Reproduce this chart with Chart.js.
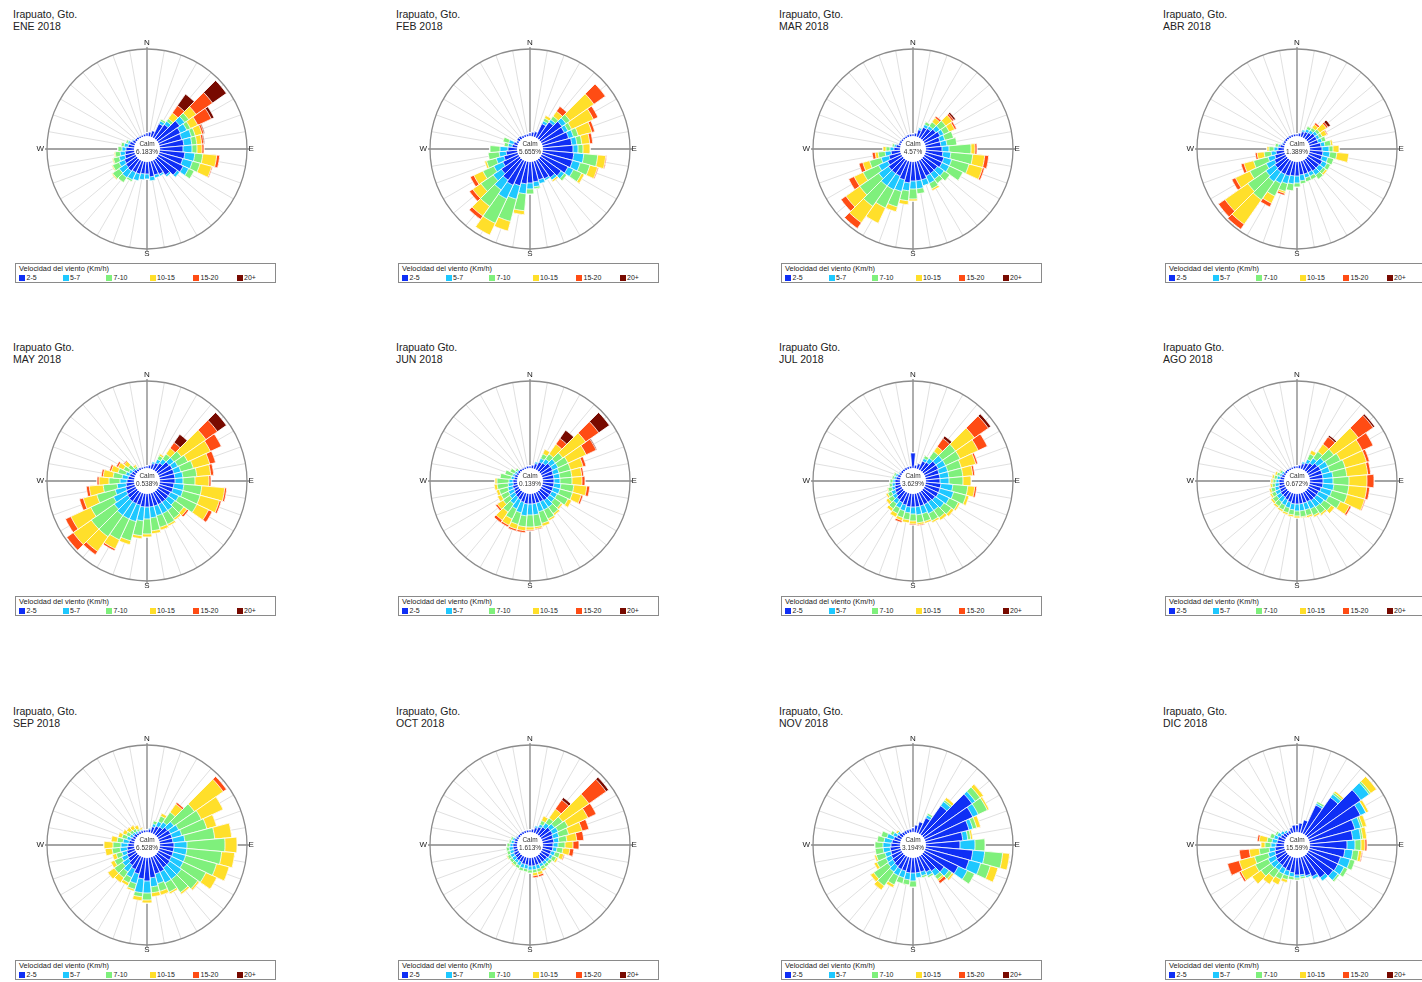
<!DOCTYPE html>
<html>
<head>
<meta charset="utf-8">
<script src="https://cdn.jsdelivr.net/npm/chart.js@4.4.1/dist/chart.umd.min.js"></script>
<style>
  html, body { margin: 0; padding: 0; background: #fff; width: 1422px; height: 982px; overflow: hidden;
    font-family: "Liberation Sans", Arial, Helvetica, sans-serif; }
  .title { position: absolute; font-size: 10.5px; line-height: 12px; color: #222; white-space: nowrap; }
  .rose { position: absolute; width: 260px; height: 260px; }
  .legend { position: absolute; width: 261px; height: 20px; box-sizing: border-box; border: 1px solid #8a8a8a; background: #fff; }
  .legend .lt { position: absolute; left: 3px; top: 1px; font-size: 7.4px; line-height: 8px; color: #222; white-space: nowrap; }
  .legend .sw { position: absolute; top: 11px; width: 6px; height: 6px; }
  .legend .lab { position: absolute; top: 10px; font-size: 7px; line-height: 8px; color: #222; white-space: nowrap; }
</style>
</head>
<body>
<script>
// Direction sectors, clockwise from north, 10 degrees each
const directionLabels = ['0','10','20','30','40','50','60','70','80','90','100','110',
  '120','130','140','150','160','170','180','190','200','210','220','230',
  '240','250','260','270','280','290','300','310','320','330','340','350'];

const speedBins = ['2-5','5-7','7-10','10-15','15-20','20+'];
const speedColors = ['#0f2ff5','#1ec8ff','#7ff07c','#ffdf2a','#ff4c14','#780a00'];

const monthLabels = ['ENE 2018','FEB 2018','MAR 2018','ABR 2018','MAY 2018','JUN 2018',
  'JUL 2018','AGO 2018','SEP 2018','OCT 2018','NOV 2018','DIC 2018'];
const stationLabels = ['Irapuato, Gto.','Irapuato, Gto.','Irapuato, Gto.','Irapuato, Gto.',
  'Irapuato Gto.','Irapuato Gto.','Irapuato Gto.','Irapuato Gto.',
  'Irapuato, Gto.','Irapuato, Gto.','Irapuato, Gto.','Irapuato, Gto.'];
const calmPercent = ['6.183','5.655','4.57','1.389','0.538','0.139','3.629','0.672','6.528','1.613','3.194','15.59'];

// Frequency (%) per direction for each speed class: [2-5, 5-7, 7-10, 10-15, 15-20, 20+]
const ene = [
  [.3,.4,.6,1.5,1.7,2.7,2.4,2.3,2.4,2.3,2.5,2.4, 2.7,2.4,1.9,1.5,1.4,1.5,1.2,1.2,1.3,1.3,1.4,1.3, 1.2,1.0,.9,.8,.6,.5,.3,.2,.2,.15,.15,.2],
  [0,0,0,.3,.4,.6,.7,1.0,.8,.9,1.0,1.0, .6,.3,.2,.2,.3,.4,.5,.6,.7,.8,.8,.8, .6,.6,.5,.4,.4,.2,.1,0,0,0,0,0],
  [0,0,0,.2,.3,.5,.4,.4,.5,.5,.8,.8, .6,0,0,0,0,0,0,0,0,.2,.6,.8, .7,.6,.5,.4,.3,.2,0,0,0,0,0,0],
  [0,0,0,0,.7,.9,.8,.7,.5,.5,1.4,1.2, 0,0,0,0,0,0,0,0,0,0,0,.1, .1,.1,.1,0,0,0,0,0,0,0,0,0],
  [0,0,0,0,.9,2.0,1.5,.2,.2,.2,.3,.1, 0,0,0,0,0,0,0,0,0,0,0,0, 0,0,0,0,0,0,0,0,0,0,0,0],
  [0,0,0,0,1.4,1.7,.3,.1,.1,0,0,0, 0,0,0,0,0,0,0,0,0,0,0,0, 0,0,0,0,0,0,0,0,0,0,0,0]
];
const feb = [
  [.3,.4,.5,1.5,2.0,2.6,2.5,2.7,2.9,3.0,3.1,3.1, 2.9,2.5,2.2,2.0,1.9,2.0,2.1,2.2,2.5,2.7,2.5,2.2, 1.7,1.4,1.1,.9,.5,.4,.2,.3,.3,.2,.2,.2],
  [0,0,0,.3,.3,.5,.4,.5,.5,.5,1.0,.8, .6,.4,.3,.2,.4,.5,.6,1.0,1.4,1.5,1.2,1.0, 1.0,.8,.7,.8,.4,.5,0,0,0,0,0,0],
  [0,0,0,.3,.4,.5,.4,.5,.5,.5,1.4,1.0, .9,.3,0,0,0,.2,.5,1.7,2.3,2.7,2.0,1.5, 1.2,1.0,1.1,1.0,.4,.6,0,0,0,0,0,0],
  [0,0,0,.3,.6,2.9,2.4,1.4,.8,.7,.8,.8, .3,0,.2,0,0,0,0,.4,1.0,1.3,1.2,1.0, 1.0,.2,0,0,0,0,0,0,0,0,0,0],
  [0,0,0,0,.6,1.4,.5,.3,.3,0,.1,.1, 0,0,0,0,0,0,0,0,0,0,.4,.4, .4,0,0,0,0,0,0,0,0,0,0,0],
  [0,0,0,0,0,0,0,0,0,0,0,0, 0,0,0,0,0,0,0,0,0,0,0,0, 0,0,0,0,0,0,0,0,0,0,0,0]
];
const mar = [
  [.2,.3,.7,1.1,1.2,1.5,1.7,1.5,1.5,1.6,1.7,1.9, 1.9,1.7,1.7,1.7,1.9,1.9,1.9,2.1,1.9,1.7,1.7,1.7, 1.5,1.2,.9,.6,.4,.2,.2,.15,.15,.15,.2,.2],
  [0,0,.2,.3,.3,.5,.4,.5,.6,.7,.8,.8, .8,.8,.7,.8,.6,.8,.8,.8,1.2,1.5,1.5,1.2, 1.0,.8,.6,.4,.2,0,0,0,0,0,0,0],
  [0,0,0,.3,.5,.7,.6,.9,1.0,2.2,2.2,1.8, 1.5,.7,.5,.6,0,.5,1.0,1.0,1.6,2.0,2.5,2.3, 1.7,1.2,.7,.4,.2,0,0,0,0,0,0,0],
  [0,0,0,0,.5,.8,.6,0,0,.4,1.2,1.4, 0,0,0,.2,0,0,.2,.4,.5,1.7,2.0,1.7, 1.0,.7,.3,.3,0,0,0,0,0,0,0,0],
  [0,0,0,0,.2,.2,.2,0,0,.2,.4,.2, 0,0,0,0,0,0,0,0,0,0,.7,.6, .6,.4,.3,0,0,0,0,0,0,0,0,0],
  [0,0,0,0,0,.2,0,0,0,0,0,0, 0,0,0,0,0,0,0,0,0,0,0,0, 0,0,0,0,0,0,0,0,0,0,0,0]
];
const abr = [
  [.2,.3,.5,.6,.7,.9,.9,.9,1.1,1.2,1.3,1.3, 1.5,1.4,1.4,1.3,1.3,1.3,1.4,1.4,1.5,1.5,1.5,1.4, 1.2,1.0,.8,.6,.4,.2,.2,.2,.2,.2,.2,.2],
  [0,0,.2,.3,.3,.3,.3,.4,.4,.7,.7,.6, .5,.5,.5,.4,.4,.6,.7,.8,.8,1.0,1.2,1.1, .9,.7,.5,.4,.2,.1,0,0,0,0,0,0],
  [0,0,0,.3,.3,.3,.3,.4,.6,.4,.7,.6, .4,.3,.5,.4,.4,.3,.4,.7,.8,1.4,2.2,2.2, 1.8,1.5,.7,.5,.3,0,0,0,0,0,0,0],
  [0,0,0,0,.4,.8,.5,0,.2,.6,1.2,0, 0,.2,0,0,0,0,0,0,.2,.8,3.0,2.8, 1.6,1.0,.7,.2,0,0,0,0,0,0,0,0],
  [0,0,0,0,.2,.2,.1,0,0,0,0,0, 0,0,0,0,0,0,0,0,.2,.4,.6,.8, .4,.3,.2,0,0,0,0,0,0,0,0,0],
  [0,0,0,0,0,.3,0,0,0,0,0,0, 0,0,0,0,0,0,0,0,0,0,0,0, 0,0,0,0,0,0,0,0,0,0,0,0]
];
const may = [
  [.2,.3,.5,.7,.9,1.4,1.5,1.5,1.5,1.5,1.4,1.4, 1.3,1.3,1.3,1.3,1.3,1.3,1.3,1.3,1.2,1.2,1.2,1.1, 1.0,.9,.8,.7,.6,.5,.4,.3,.2,.2,.15,.15],
  [0,0,.2,.4,.5,.6,.6,.7,.8,.8,1.0,1.0, .9,.8,1.0,1.0,1.0,1.1,1.2,1.4,1.7,1.7,1.7,1.6, 1.4,1.1,.9,.7,.6,.4,.3,.2,.1,0,0,0],
  [0,0,0,.4,.6,.9,1.1,1.3,1.4,1.2,1.8,1.8, 2.0,1.1,1.0,1.2,1.2,1.3,1.5,1.5,2.0,2.3,2.6,2.8, 2.5,1.9,1.4,1.1,.9,.8,.6,.5,.2,0,0,0],
  [0,0,0,.2,.7,3.0,2.5,1.7,1.4,1.4,2.3,2.0, 1.3,.4,.2,.2,.3,.3,.3,.3,.4,1.0,1.8,2.2, 2.2,1.4,1.4,1.0,1.0,.7,.6,.5,.2,0,0,0],
  [0,0,0,0,.7,1.4,1.2,.6,.3,.2,.2,.2, .4,.2,0,0,0,0,0,0,0,.2,.4,.8, .6,.4,.3,.2,.2,.2,.2,.1,0,0,0,0],
  [0,0,0,0,1.0,1.1,0,0,0,0,0,0, 0,0,0,0,0,0,0,0,0,0,0,0, 0,0,0,0,0,0,0,0,0,0,0,0]
];
const jun = [
  [.2,.3,.5,.8,.9,1.2,1.2,1.1,1.1,1.1,1.1,1.1, 1.1,1.1,1.1,1.0,1.0,1.0,1.0,1.0,.9,.8,.7,.6, .5,.5,.4,.4,.3,.3,.2,.2,.2,.15,.15,.2],
  [0,0,.2,.4,.5,.6,.6,.6,.6,.6,.7,.7, .6,.6,.8,.9,.9,1.1,1.1,1.2,1.1,1.0,.8,.6, .6,.5,.5,.4,.3,.2,.2,.1,0,0,0,0],
  [0,0,0,.5,.6,.9,1.1,1.2,1.2,1.2,1.3,1.3, 1.2,.8,.8,1.0,1.2,1.2,1.2,1.1,1.2,1.1,1.0,.8, .8,.9,1.1,1.2,1.1,.8,.5,.2,0,0,0,0],
  [0,0,0,.5,1.2,2.8,2.0,1.3,1.0,1.0,1.3,.9, .4,.2,.2,.2,.3,.2,.3,.4,.5,.7,1.0,.7, .4,.3,.3,.2,0,0,0,0,0,0,0,0],
  [0,0,0,0,.7,1.6,1.1,.3,.2,.3,.3,.2, 0,0,0,0,0,.1,.1,.2,.2,.2,.3,.2, 0,0,0,0,0,0,0,0,0,0,0,0],
  [0,0,0,0,1.0,1.3,.1,0,0,0,0,0, 0,0,0,0,0,0,0,0,0,0,0,0, 0,0,0,0,0,0,0,0,0,0,0,0]
];
const jul = [
  [1.5,.3,.5,.9,1.0,1.5,1.5,1.4,1.4,1.4,1.5,1.5, 1.5,1.4,1.3,1.3,1.3,1.3,1.3,1.3,1.2,1.1,1.0,.8, .7,.6,.5,.5,.4,.3,.2,.2,.2,.2,.2,.2],
  [0,0,0,.3,.5,.8,.8,.9,.9,.9,1.2,1.4, 1.2,1.1,1.0,1.0,.8,.8,.7,.6,.6,.6,.5,.4, .4,.3,.3,.2,.2,.2,.1,0,0,0,0,0],
  [0,0,0,.3,.8,1.6,1.6,1.4,1.4,1.4,1.5,1.3, 1.0,.9,.9,.8,.8,.8,.7,.7,.7,.6,.6,.5, .4,.4,.3,.3,.2,.2,0,0,0,0,0,0],
  [0,0,0,0,.6,2.3,2.0,1.5,1.0,.8,.7,.3, .2,.3,.3,.2,.2,.2,.3,.3,.3,.4,.3,.3, .2,.1,0,0,0,0,0,0,0,0,0,0],
  [0,0,0,0,1.0,1.7,1.0,.2,.2,0,.2,0, 0,0,0,0,0,.1,.1,0,.2,0,0,0, 0,0,0,0,0,0,0,0,0,0,0,0],
  [0,0,0,0,.3,.3,0,0,0,0,0,0, 0,0,0,0,0,0,0,0,0,0,0,0, 0,0,0,0,0,0,0,0,0,0,0,0]
];
const ago = [
  [.2,.3,.5,.7,.9,1.2,1.3,1.3,1.3,1.3,1.3,1.2, 1.1,1.1,1.1,1.0,1.0,1.0,1.0,1.0,.9,.8,.7,.7, .6,.6,.5,.5,.4,.3,.2,.2,.2,.15,.15,.2],
  [0,0,.2,.4,.6,.8,.8,.8,1.0,1.0,1.1,1.1, 1.1,.9,.8,.8,.7,.7,.7,.6,.6,.6,.6,.5, .5,.4,.4,.3,.3,.2,.2,0,0,0,0,0],
  [0,0,0,.6,.8,1.2,1.4,1.6,1.4,1.6,1.5,1.6, 1.3,.9,.8,.7,.6,.6,.5,.5,.5,.5,.5,.5, .4,.4,.3,.3,.3,.3,.2,0,0,0,0,0],
  [0,0,0,.4,.9,3.0,2.4,2.2,2.1,1.8,1.8,1.8, 1.0,.4,.2,.2,.2,.1,.2,.2,.2,.2,.2,.2, .2,.2,.2,.2,.2,.2,.1,0,0,0,0,0],
  [0,0,0,0,.9,1.8,1.2,.3,.3,.7,.3,.1, .2,0,0,0,0,0,0,0,0,0,0,0, 0,0,0,0,0,0,0,0,0,0,0,0],
  [0,0,0,0,.2,.2,0,0,0,0,0,0, 0,0,0,0,0,0,0,0,0,0,0,0, 0,0,0,0,0,0,0,0,0,0,0,0]
];
const sep = [
  [.2,.3,.6,.8,.9,1.2,1.3,1.3,1.3,1.4,1.4,1.4, 1.4,1.5,1.5,1.7,1.7,2.0,2.3,2.1,1.7,1.4,1.2,1.0, .9,.8,.7,.6,.5,.4,.3,.3,.2,.2,.2,.2],
  [0,.1,.3,.5,.6,.8,.9,1.0,1.2,1.3,1.3,1.3, 1.3,1.4,1.4,1.2,1.0,.9,1.2,1.4,1.0,.9,.8,.7, .6,.5,.7,.7,.6,.4,.3,.2,.2,.1,.1,0],
  [0,0,.3,.6,1.2,2.5,2.5,2.6,3.0,3.8,3.5,3.2, 2.5,2.0,1.6,1.0,.8,.6,.7,.4,.6,.6,.7,1.0, .8,.6,.8,.8,.6,.5,.4,.3,.3,.2,0,0],
  [0,0,0,.3,1.0,3.5,2.4,1.0,1.7,1.2,1.3,1.3, 1.2,.2,.2,.2,.4,.4,.3,.4,.2,.3,.6,.8, .4,.4,.7,.9,.6,.4,.4,.4,.4,.4,.2,0],
  [0,0,0,0,.2,.4,0,0,0,0,0,0, 0,0,0,0,0,0,0,0,0,0,0,0, 0,0,0,0,0,0,0,0,0,0,0,0],
  [0,0,0,0,0,0,0,0,0,0,0,0, 0,0,0,0,0,0,0,0,0,0,0,0, 0,0,0,0,0,0,0,0,0,0,0,0]
];
const oct = [
  [.2,.3,.5,.7,.9,1.2,1.2,1.1,1.1,1.0,1.0,.9, .9,.8,.8,.8,.8,.8,.8,.7,.7,.6,.6,.5, .5,.4,.4,.4,.3,.3,.2,.2,.2,.2,.2,.2],
  [0,0,.2,.3,.5,.5,.6,.6,.5,.5,.4,.4, .3,.3,.3,.3,.4,.4,.4,.4,.4,.4,.3,.4, .4,.4,.4,.3,.3,.2,.1,0,0,0,0,0],
  [0,0,0,.4,.6,1.0,1.1,1.0,.8,.7,.6,.5, .4,.3,.3,.3,.3,.3,.3,.3,.3,.3,.3,.3, .3,.3,.3,.3,.2,.2,0,0,0,0,0,0],
  [0,0,0,.5,1.1,3.2,2.2,1.4,1.0,.8,.7,.4, .2,0,0,.2,.3,.3,0,0,0,0,.1,0, .1,0,0,0,0,0,0,0,0,0,0,0],
  [0,0,0,0,1.1,2.1,.9,.7,.7,.6,.4,.1, 0,0,0,0,.2,.2,0,0,0,0,0,0, 0,0,0,0,0,0,0,0,0,0,0,0],
  [0,0,0,0,.3,.3,0,0,0,0,0,0, 0,0,0,0,0,0,0,0,0,0,0,0, 0,0,0,0,0,0,0,0,0,0,0,0]
];
const nov = [
  [.4,.7,1.1,1.7,3.5,5.9,5.3,4.5,3.7,3.4,4.7,4.5, 3.7,2.5,1.9,1.7,1.5,1.5,1.5,1.5,1.4,1.4,1.3,1.2, 1.1,1.0,1.0,.9,.8,.7,.5,.4,.3,.3,.3,.3],
  [0,0,0,.3,.5,.4,.6,.4,.5,1.5,1.2,1.2, 1.0,.6,.6,.4,.4,.5,.8,.7,.7,.7,.7,.6, .6,.6,.7,.8,.8,.7,.4,.2,0,0,0,0],
  [0,0,0,.2,.2,.6,1.0,.4,.3,1.0,1.8,1.0, .8,.4,.4,.2,.2,0,.6,.5,.6,1.0,1.7,1.7, 1.0,.9,.8,.8,.7,.6,.3,0,0,0,0,0],
  [0,0,0,0,.3,.4,.2,.4,.2,0,.7,.8, 0,.2,.2,0,0,0,0,0,0,.3,.5,.4, .3,.2,0,0,0,0,0,.2,0,0,0,0],
  [0,0,0,0,0,0,0,0,0,0,0,0, 0,0,.3,0,0,0,0,0,0,0,0,0, 0,0,0,0,0,0,0,0,0,0,0,0],
  [0,0,0,0,0,0,0,0,0,0,0,0, 0,0,0,0,0,0,0,0,0,0,0,0, 0,0,0,0,0,0,0,0,0,0,0,0]
];
const dic = [
  [.7,.9,1.3,3.1,4.5,6.5,5.7,4.7,4.3,3.7,3.5,3.2, 3.2,3.1,2.7,2.2,1.9,1.7,1.7,1.5,1.4,1.3,1.2,1.2, 1.1,1.0,.9,.8,.7,.7,.5,.4,.3,.3,.5,.7],
  [0,0,0,.2,.4,1.0,.6,.6,.8,.8,.8,1.0, .7,.6,.4,.3,.2,.2,.3,.4,.5,.6,.6,.7, .8,.7,.6,.5,.5,.4,.4,.3,.2,0,0,0],
  [0,0,0,.2,.2,.2,0,.2,.2,.6,.6,.5, .4,.2,0,0,0,.2,.2,.3,.4,.6,.9,1.2, 1.4,1.4,1.0,.6,.5,.4,.2,0,0,0,0,0],
  [0,0,0,0,.2,.7,.3,.4,.4,.4,.3,0, 0,0,0,0,0,0,0,0,.3,.6,.8,1.1, 1.6,1.6,1.0,.4,.8,0,0,0,0,0,0,0],
  [0,0,0,0,0,0,0,0,0,.2,.1,0, 0,0,0,0,0,0,0,0,0,0,0,0, .2,1.2,1.0,0,.2,0,0,0,0,0,0,0],
  [0,0,0,0,0,0,0,0,0,0,0,0, 0,0,0,0,0,0,0,0,0,0,0,0, 0,0,0,0,0,0,0,0,0,0,0,0]
];
const monthlyFrequencies = [ene, feb, mar, abr, may, jun, jul, ago, sep, oct, nov, dic];

// Radial axis range: the calm disc occupies the part of the radius below zero
const radialMin = -1.3;
const radialMax = 8.7;

// Grid placement of the twelve panels
const colOffsets = [0, 383, 766, 1150];
const roseRowOffsets = [0, 332, 696];
const textRowOffsets = [0, 333, 697];

// Frame of the rose: sector spokes, compass axes, outer ring, calm disc and labels
const roseFrame = {
  id: 'roseFrame',
  beforeDatasetsDraw(chart) {
    const r = chart.scales.r;
    const ctx = chart.ctx;
    const cx = r.xCenter, cy = r.yCenter, R = r.drawingArea;
    ctx.save();
    ctx.strokeStyle = '#dcdcdc';
    ctx.lineWidth = 0.9;
    for (let i = 0; i < directionLabels.length; i++) {
      const a = (Number(directionLabels[i]) * Math.PI / 180) - Math.PI / 2;
      ctx.beginPath();
      ctx.moveTo(cx, cy);
      ctx.lineTo(cx + Math.cos(a) * R, cy + Math.sin(a) * R);
      ctx.stroke();
    }
    ctx.strokeStyle = '#8c8c8c';
    ctx.lineWidth = 1.3;
    ctx.beginPath();
    ctx.moveTo(cx, cy - R - 2); ctx.lineTo(cx, cy + R + 2);
    ctx.moveTo(cx - R - 2, cy); ctx.lineTo(cx + R + 2, cy);
    ctx.stroke();
    ctx.beginPath();
    ctx.arc(cx, cy, R, 0, Math.PI * 2);
    ctx.stroke();
    ctx.restore();
  },
  afterDatasetsDraw(chart, args, opts) {
    const r = chart.scales.r;
    const ctx = chart.ctx;
    const cx = r.xCenter, cy = r.yCenter, R = r.drawingArea;
    const r0 = r.getDistanceFromCenterForValue(0);
    ctx.save();
    ctx.fillStyle = '#ffffff';
    ctx.beginPath();
    ctx.arc(cx, cy, r0, 0, Math.PI * 2);
    ctx.fill();
    ctx.fillStyle = '#333';
    ctx.font = '6.5px "Liberation Sans", Arial, sans-serif';
    ctx.textAlign = 'center';
    ctx.textBaseline = 'middle';
    ctx.fillText('Calm', cx, cy - 4.5);
    ctx.fillText(opts.calm + '%', cx, cy + 3);
    ctx.font = '8px "Liberation Sans", Arial, sans-serif';
    ctx.fillStyle = '#222';
    ctx.textBaseline = 'bottom';
    ctx.fillText('N', cx, cy - R - 2);
    ctx.textBaseline = 'top';
    ctx.fillText('S', cx, cy + R + 1);
    ctx.textBaseline = 'middle';
    ctx.textAlign = 'right';
    ctx.fillText('W', cx - R - 3, cy);
    ctx.textAlign = 'left';
    ctx.fillText('E', cx + R + 1.5, cy);
    ctx.restore();
  }
};

function cumulative(bins) {
  const out = [];
  let run = new Array(directionLabels.length).fill(0);
  bins.forEach(row => {
    run = run.map((v, i) => v + row[i]);
    out.push(run.slice());
  });
  return out;
}

function addDiv(cls, left, top, html) {
  const d = document.createElement('div');
  d.className = cls;
  d.style.left = left + 'px';
  d.style.top = top + 'px';
  if (html !== undefined) d.innerHTML = html;
  document.body.appendChild(d);
  return d;
}

monthlyFrequencies.forEach((bins, p) => {
  const col = p % 4, row = Math.floor(p / 4);
  const ox = colOffsets[col];
  const cx = 147 + ox, cy = 149 + roseRowOffsets[row];
  const ty = textRowOffsets[row];

  addDiv('title', 13 + ox, 8 + ty, stationLabels[p] + '<br>' + monthLabels[p]);

  const canvas = document.createElement('canvas');
  canvas.className = 'rose';
  canvas.width = 260; canvas.height = 260;
  canvas.style.left = (cx - 130) + 'px';
  canvas.style.top = (cy - 130) + 'px';
  document.body.appendChild(canvas);

  // stacked sectors: each dataset is the running total, smallest drawn on top
  const stacked = cumulative(bins);
  new Chart(canvas, {
    type: 'polarArea',
    data: {
      labels: directionLabels,
      datasets: stacked.map((vals, k) => ({
        label: speedBins[k],
        data: vals,
        backgroundColor: speedColors[k],
        borderColor: '#ffffff',
        borderWidth: 0.8
      }))
    },
    options: {
      responsive: false,
      animation: false,
      events: [],
      layout: { padding: 30 },
      plugins: {
        legend: { display: false },
        tooltip: { enabled: false },
        roseFrame: { calm: calmPercent[p] }
      },
      scales: {
        r: {
          min: radialMin,
          max: radialMax,
          startAngle: -5,
          ticks: { display: false },
          grid: { display: false },
          angleLines: { display: false },
          pointLabels: { display: false }
        }
      }
    },
    plugins: [roseFrame]
  });

  const lg = addDiv('legend', 15 + ox, 263 + ty);
  const lt = document.createElement('div');
  lt.className = 'lt';
  lt.textContent = 'Velocidad del viento (Km/h)';
  lg.appendChild(lt);
  speedBins.forEach((name, k) => {
    const x = 3 + k * 43.5;
    const sw = document.createElement('div');
    sw.className = 'sw';
    sw.style.left = x + 'px';
    sw.style.background = speedColors[k];
    lg.appendChild(sw);
    const lb = document.createElement('div');
    lb.className = 'lab';
    lb.style.left = (x + 7.5) + 'px';
    lb.textContent = name;
    lg.appendChild(lb);
  });
});
</script>
</body>
</html>
